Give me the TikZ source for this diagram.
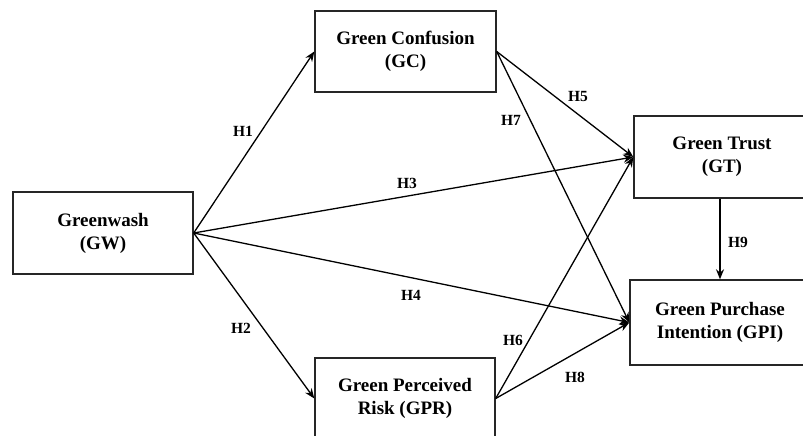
\documentclass[tikz,border=0pt]{standalone}
\usepackage{fontspec}
\setmainfont{Liberation Serif}
\usepackage{tikz}
\usetikzlibrary{arrows.meta}
\tikzstyle{construct} = [rectangle, draw=black!85, line width=1.4pt, inner sep=0pt, align=center, text centered, font=\fontsize{19}{23}\selectfont\bfseries]
\tikzstyle{hypo} = [inner sep=0pt, font=\fontsize{15.5}{18}\selectfont\bfseries]
\tikzstyle{arrow} = [line width=1.3pt,-{Stealth[length=10pt,width=8pt]}]

\begin{document}
\begin{tikzpicture}[x=1pt, y=-1pt]
    \useasboundingbox (0,0) rectangle (803,436);
    \clip (0,0) rectangle (803,436);
    \node (Greenwash) [construct, minimum width=180pt, minimum height=82pt, text depth=4pt] at (103,233) {Greenwash\\(GW)};
    \node (Confusion) [construct, minimum width=181pt, minimum height=81pt, text depth=4pt] at (405.5,51.5) {Green Confusion\\(GC)};
    \node (Risk) [construct, minimum width=180pt, minimum height=81pt, text depth=4pt] at (405,398.5) {Green Perceived\\Risk (GPR)};
    \node (Trust) [construct, minimum width=176pt, minimum height=82pt, text depth=4pt] at (722,157) {Green Trust\\(GT)};
    \node (Purchase) [construct, minimum width=180pt, minimum height=85pt, text depth=4pt] at (720,322.5) {Green Purchase\\Intention (GPI)};
    \draw [arrow] (Greenwash.east) -- (Confusion.west);
    \draw [arrow] (Greenwash.east) -- (Risk.west);
    \draw [arrow] (Greenwash.east) -- (Trust.west);
    \draw [arrow] (Greenwash.east) -- (Purchase.west);
    \draw [arrow] (Confusion.east) -- (Trust.west);
    \draw [arrow] (Confusion.east) -- (Purchase.west);
    \draw [arrow] (Risk.east) -- (Trust.west);
    \draw [arrow] (Risk.east) -- (Purchase.west);
    \draw [arrow] (Trust.south -| 720,0) -- (Purchase.north);
    \node (H1) [hypo] at (243,131) {H1};
    \node (H2) [hypo] at (241,328) {H2};
    \node (H3) [hypo] at (407,183) {H3};
    \node (H4) [hypo] at (411,295) {H4};
    \node (H5) [hypo] at (578,97) {H5};
    \node (H6) [hypo] at (513,340) {H6};
    \node (H7) [hypo] at (511,120) {H7};
    \node (H8) [hypo] at (575,377) {H8};
    \node (H9) [hypo] at (738,242) {H9};
\end{tikzpicture}
\end{document}
